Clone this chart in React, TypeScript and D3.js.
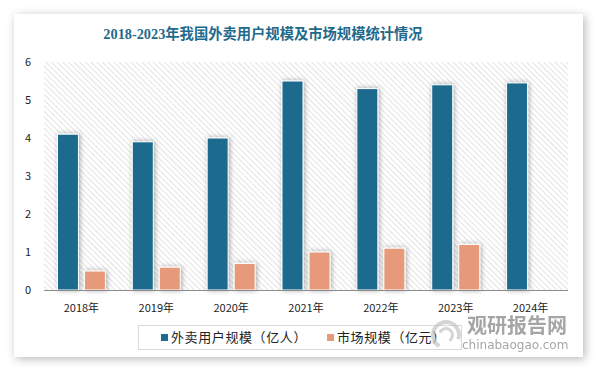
import React, { useEffect, useRef } from 'react';
import * as d3 from 'd3';

const years = ['2018年', '2019年', '2020年', '2021年', '2022年', '2023年', '2024年'];
const users = [4.1, 3.9, 4.0, 5.5, 5.3, 5.4, 5.45];
const market: (number | null)[] = [0.5, 0.6, 0.7, 1.0, 1.1, 1.2, null];
const yTicks = [0, 1, 2, 3, 4, 5, 6];
const seriesNames = ['外卖用户规模（亿人）', '市场规模（亿元）'];
const colors = ['#1c6b8e', '#e69a7a'];
const title = '2018-2023年我国外卖用户规模及市场规模统计情况';

const W = 596;
const H = 369;
const plot = { left: 44, right: 568, top: 62, bottom: 290 };

const App = () => {
    const ref = useRef<SVGSVGElement>(null);

    useEffect(() => {
        const svg = d3.select(ref.current);
        svg.selectAll('*').remove();

        const defs = svg.append('defs');
        const pat = defs.append('pattern')
            .attr('id', 'hatch')
            .attr('patternUnits', 'userSpaceOnUse')
            .attr('width', 4)
            .attr('height', 4)
            .attr('patternTransform', 'rotate(-45)');
        pat.append('line')
            .attr('x1', 0).attr('y1', 0).attr('x2', 0).attr('y2', 4)
            .attr('stroke', '#bdbdbd')
            .attr('stroke-width', 1.3);

        defs.append('filter').attr('id', 'cardShadow')
            .attr('x', '-10%').attr('y', '-10%').attr('width', '120%').attr('height', '120%')
            .append('feDropShadow')
            .attr('dx', 2).attr('dy', 2).attr('stdDeviation', 5)
            .attr('flood-color', '#000').attr('flood-opacity', 0.28);

        defs.append('filter').attr('id', 'barShadow')
            .attr('x', '-50%').attr('y', '-20%').attr('width', '200%').attr('height', '140%')
            .append('feDropShadow')
            .attr('dx', 1).attr('dy', 0).attr('stdDeviation', 2.5)
            .attr('flood-color', '#000').attr('flood-opacity', 0.35);

        svg.append('rect')
            .attr('width', W).attr('height', H).attr('fill', '#fff');

        svg.append('rect')
            .attr('x', 14).attr('y', 14).attr('width', 569).attr('height', 343)
            .attr('fill', '#fff')
            .attr('filter', 'url(#cardShadow)');

        svg.append('text')
            .attr('x', 263).attr('y', 39)
            .attr('text-anchor', 'middle')
            .attr('font-family', '"Liberation Serif", "Noto Sans CJK SC", serif')
            .attr('font-weight', 'bold')
            .attr('font-size', 14.3)
            .attr('fill', '#1f6a8c')
            .text(title);

        const x = d3.scaleBand()
            .domain(years)
            .range([plot.left, plot.right]);
        const y = d3.scaleLinear()
            .domain([0, 6])
            .range([plot.bottom, plot.top]);

        svg.append('rect')
            .attr('x', plot.left).attr('y', plot.top)
            .attr('width', plot.right - plot.left)
            .attr('height', plot.bottom - plot.top)
            .attr('fill', 'url(#hatch)')
            .attr('opacity', 0.65);

        const barW = 21;
        const gap = 6;
        const g = svg.append('g').attr('filter', 'url(#barShadow)');

        g.selectAll('rect.users')
            .data(users)
            .enter()
            .append('rect')
            .attr('class', 'users')
            .attr('x', (d, i) => x(years[i])! + x.bandwidth() / 2 - gap / 2 - barW)
            .attr('y', d => y(d))
            .attr('width', barW)
            .attr('height', d => y(0) - y(d))
            .attr('fill', colors[0])
            .attr('stroke', '#fff')
            .attr('stroke-width', 1);

        g.selectAll('rect.market')
            .data(market)
            .enter()
            .filter(d => d !== null)
            .append('rect')
            .attr('class', 'market')
            .attr('x', (d, i) => x(years[i])! + x.bandwidth() / 2 + gap / 2)
            .attr('y', d => y(d as number))
            .attr('width', barW)
            .attr('height', d => y(0) - y(d as number))
            .attr('fill', colors[1])
            .attr('stroke', '#fff')
            .attr('stroke-width', 1);

        svg.append('line')
            .attr('x1', plot.left).attr('x2', plot.right)
            .attr('y1', y(0) + 0.5).attr('y2', y(0) + 0.5)
            .attr('stroke', '#8c8c8c')
            .attr('stroke-width', 1);

        const font = '"Noto Sans CJK SC", "Noto Sans", sans-serif';

        svg.selectAll('text.ytick')
            .data(yTicks)
            .enter()
            .append('text')
            .attr('class', 'ytick')
            .attr('x', 31)
            .attr('y', d => y(d) + 4)
            .attr('text-anchor', 'end')
            .attr('font-family', font)
            .attr('font-size', 11)
            .attr('fill', '#222')
            .text(d => d);

        svg.selectAll('text.xtick')
            .data(years)
            .enter()
            .append('text')
            .attr('class', 'xtick')
            .attr('x', d => x(d)! + x.bandwidth() / 2)
            .attr('y', 312)
            .attr('text-anchor', 'middle')
            .attr('font-family', font)
            .attr('font-size', 11)
            .attr('fill', '#222')
            .text(d => d);

        // legend
        svg.append('rect')
            .attr('x', 138.5).attr('y', 325.5).attr('width', 323).attr('height', 24)
            .attr('fill', 'none')
            .attr('stroke', '#d9d9d9');

        const legendX = [161, 327];
        seriesNames.forEach((name, i) => {
            svg.append('rect')
                .attr('x', legendX[i]).attr('y', 334)
                .attr('width', 7).attr('height', 7)
                .attr('fill', colors[i]);
            svg.append('text')
                .attr('x', legendX[i] + 10).attr('y', 342)
                .attr('font-family', font)
                .attr('font-size', 13)
                .attr('letter-spacing', 0.6)
                .attr('fill', '#222')
                .text(name);
        });

        // watermark
        const wm = svg.append('g').attr('opacity', 0.7);
        wm.append('path')
            .attr('d', d3.arc()({ innerRadius: 11, outerRadius: 15, startAngle: -2.6, endAngle: 1.9 }) as string)
            .attr('transform', 'translate(446,335)')
            .attr('fill', '#c4c4c4');
        wm.append('path')
            .attr('d', d3.arc()({ innerRadius: 5, outerRadius: 8, startAngle: -1.2, endAngle: 2.6 }) as string)
            .attr('transform', 'translate(446,335)')
            .attr('fill', '#c4c4c4');
        wm.append('text')
            .attr('x', 467).attr('y', 333)
            .attr('font-family', font)
            .attr('font-weight', 'bold')
            .attr('font-size', 20)
            .attr('fill', '#7f7f7f')
            .text('观研报告网');
        wm.append('text')
            .attr('x', 462).attr('y', 349)
            .attr('font-family', '"DejaVu Sans", sans-serif')
            .attr('font-size', 12)
            .attr('fill', '#7f7f7f')
            .text('chinabaogao.com');
    }, []);

    return (
        <svg ref={ref} width={W} height={H} style={{ display: 'block', position: 'absolute', left: 0, top: 0 }} />
    );
};

export default App;
